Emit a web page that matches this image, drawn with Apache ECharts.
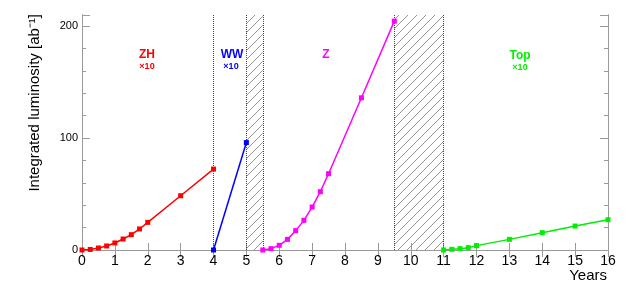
<!DOCTYPE html>
<html><head><meta charset="utf-8">
<script src="https://cdn.jsdelivr.net/npm/echarts@6/dist/echarts.min.js"></script>
<style>html,body{margin:0;padding:0;background:#fff}#c{width:640px;height:288px}</style>
</head><body><div id="c"></div>
<script>
const yearsZH = [0,0.25,0.5,0.75,1,1.25,1.5,1.75,2,3,4];
const lumiZH  = [0,0.5,1.8,3.6,6.3,9.8,13.7,18.8,24.7,48.5,72.3];
const yearsWW = [4,5];
const lumiWW  = [0,96];
const yearsZ  = [5.5,5.75,6,6.25,6.5,6.75,7,7.25,7.5,8.5,9.5];
const lumiZ   = [0,1.2,4.2,9.5,17.3,26.5,38.4,52.1,68.2,136,204.5];
const yearsTop = [11,11.25,11.5,11.75,12,13,14,15,16];
const lumiTop  = [0,0.6,1.2,2.1,3.9,9.5,15.5,21.4,27.1];
const dividers = [4,5,5.5,9.5,11];
const hatched = [[5,5.5],[9.5,11]];

const T = 9;
const pc = document.createElement('canvas');
pc.width = T; pc.height = T;
const g = pc.getContext('2d');
g.strokeStyle = '#8a8a8a'; g.lineWidth = 0.9;
g.beginPath();
g.moveTo(0,T); g.lineTo(T,0);
g.moveTo(-2,2); g.lineTo(2,-2);
g.moveTo(T-2,T+2); g.lineTo(T+2,T-2);
g.stroke();

const chart = echarts.init(document.getElementById('c'), null, {renderer:'canvas'});
const font = 'Liberation Sans, Arial, sans-serif';
const gray = '#9a9a9a';
function zip(a,b){return a.map((v,i)=>[v,b[i]]);}
function mkSeries(name, xs, ys, color){
  return {name, type:'line', data: zip(xs,ys), symbol:'rect', symbolSize:5,
    lineStyle:{color, width:1.5}, itemStyle:{color}, animation:false, z:5};
}
const xBase = {type:'value', min:0, max:16, interval:1,
  axisLine:{show:true, lineStyle:{color:gray, width:1}},
  axisTick:{show:true, inside:true, length:7, lineStyle:{color:gray}},
  splitLine:{show:false}};
const yBase = {type:'value', min:0, max:210,
  axisLine:{show:true, lineStyle:{color:gray, width:1}},
  splitLine:{show:false}};

chart.setOption({
  animation:false,
  grid:{left:82, right:32, top:15, bottom:38},
  xAxis:[
    Object.assign({}, xBase, {position:'bottom',
      axisLabel:{show:true, fontSize:14, color:'#000', fontFamily:font, margin:4}}),
    Object.assign({}, xBase, {position:'top', axisLabel:{show:false}})
  ],
  yAxis:[
    Object.assign({}, yBase, {position:'left', interval:100,
      axisTick:{show:true, inside:true, length:8, lineStyle:{color:gray}},
      axisLabel:{show:true, fontSize:11, color:'#000', fontFamily:font, margin:4,
        formatter:v=> (v%100===0? String(v): '')}}),
    Object.assign({}, yBase, {position:'left', interval:20,
      axisTick:{show:true, inside:true, length:4, lineStyle:{color:gray}},
      axisLabel:{show:false}}),
    Object.assign({}, yBase, {position:'right', interval:100,
      axisTick:{show:true, inside:true, length:8, lineStyle:{color:gray}},
      axisLabel:{show:false}}),
    Object.assign({}, yBase, {position:'right', interval:20,
      axisTick:{show:true, inside:true, length:4, lineStyle:{color:gray}},
      axisLabel:{show:false}})
  ],
  series:[
    {type:'line', data:[], z:1, silent:true,
      markArea:{silent:true, itemStyle:{color:{image:pc, repeat:'repeat'}},
        data: hatched.map(h=>[{xAxis:h[0]},{xAxis:h[1]}])},
      markLine:{silent:true, symbol:'none', label:{show:false},
        lineStyle:{color:'#444', type:'dotted', width:1},
        data: dividers.map(d=>({xAxis:d}))}},
    mkSeries('ZH', yearsZH, lumiZH, '#ff0000'),
    mkSeries('WW', yearsWW, lumiWW, '#0000ff'),
    mkSeries('Z', yearsZ, lumiZ, '#ff00ff'),
    mkSeries('Top', yearsTop, lumiTop, '#00ee00')
  ],
  graphic:[
    {type:'text', x:35, y:14, rotation:Math.PI/2,
      style:{text:'Integrated luminosity [ab⁻¹]', font:'15px '+font, fill:'#000', textAlign:'right', textVerticalAlign:'middle'}},
    {type:'text', x:607, y:276, style:{text:'Years', font:'15px '+font, fill:'#000', textAlign:'right', textVerticalAlign:'middle'}},
    {type:'text', x:147, y:55, style:{text:'ZH', font:'bold 12px '+font, fill:'#ff0000', textAlign:'center', textVerticalAlign:'middle'}},
    {type:'text', x:147, y:67, style:{text:'×10', font:'bold 9px '+font, fill:'#ff0000', textAlign:'center', textVerticalAlign:'middle'}},
    {type:'text', x:232, y:55, style:{text:'WW', font:'bold 12px '+font, fill:'#0000ff', textAlign:'center', textVerticalAlign:'middle'}},
    {type:'text', x:231, y:67, style:{text:'×10', font:'bold 9px '+font, fill:'#0000ff', textAlign:'center', textVerticalAlign:'middle'}},
    {type:'text', x:326, y:55, style:{text:'Z', font:'bold 12px '+font, fill:'#ff00ff', textAlign:'center', textVerticalAlign:'middle'}},
    {type:'text', x:520, y:56, style:{text:'Top', font:'bold 12px '+font, fill:'#00ee00', textAlign:'center', textVerticalAlign:'middle'}},
    {type:'text', x:520, y:68, style:{text:'×10', font:'bold 9px '+font, fill:'#00ee00', textAlign:'center', textVerticalAlign:'middle'}}
  ]
});
</script></body></html>
